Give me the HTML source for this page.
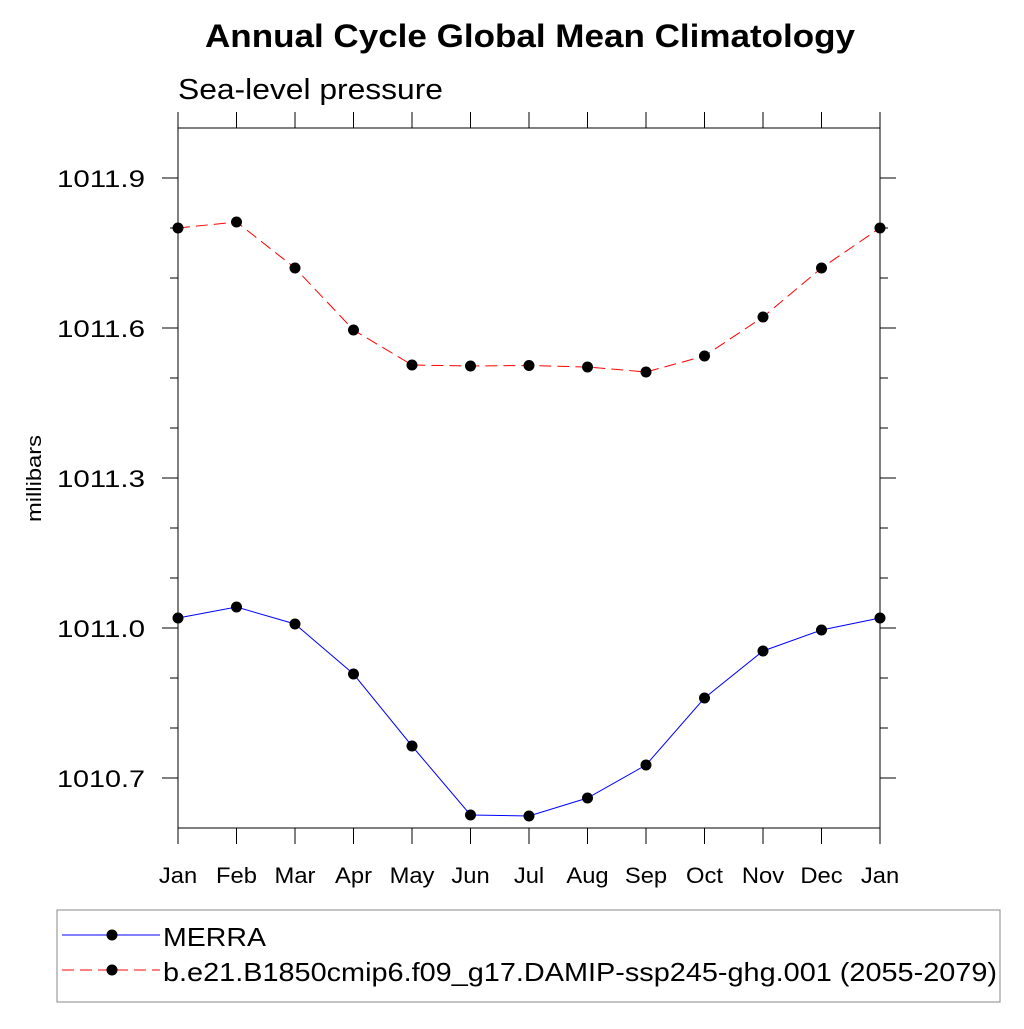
<!DOCTYPE html>
<html><head><meta charset="utf-8"><style>
body{margin:0;background:#fff;}
text{font-family:"Liberation Sans",sans-serif;}
</style></head><body>
<svg id="chart" width="1024" height="1024" viewBox="0 0 1024 1024" xmlns="http://www.w3.org/2000/svg">
<rect width="1024" height="1024" fill="#fff"/>
<text x="205" y="47" font-size="32" font-weight="bold" textLength="650" lengthAdjust="spacingAndGlyphs">Annual Cycle Global Mean Climatology</text>
<text x="178" y="99" font-size="29" textLength="265" lengthAdjust="spacingAndGlyphs">Sea-level pressure</text>
<text transform="translate(41,522) rotate(-90)" font-size="20" textLength="87" lengthAdjust="spacingAndGlyphs">millibars</text>
<g id="axes"></g>
<g id="series"></g>
<rect x="57" y="910" width="943" height="92" fill="none" stroke="#888" stroke-width="1"/>
<g>
<line x1="62" y1="935" x2="160" y2="935" stroke="#00f" stroke-width="1"/>
<circle cx="112" cy="935" r="5.5" fill="#000"/>
<text x="163" y="946" font-size="26" textLength="103" lengthAdjust="spacingAndGlyphs">MERRA</text></g>
<g>
<line x1="62" y1="970" x2="160" y2="970" stroke="#f00" stroke-width="1" stroke-dasharray="12,6"/>
<circle cx="112" cy="970" r="5.5" fill="#000"/>
<text x="163" y="981" font-size="26" textLength="834" lengthAdjust="spacingAndGlyphs">b.e21.B1850cmip6.f09_g17.DAMIP-ssp245-ghg.001 (2055-2079)</text></g>
</svg>
<script>
const months=["Jan","Feb","Mar","Apr","May","Jun","Jul","Aug","Sep","Oct","Nov","Dec","Jan"];
const merra=[1011.02,1011.042,1011.008,1010.908,1010.764,1010.626,1010.624,1010.66,1010.726,1010.86,1010.954,1010.996,1011.02];
const model=[1011.8,1011.812,1011.72,1011.596,1011.526,1011.524,1011.525,1011.522,1011.512,1011.544,1011.622,1011.72,1011.8];
const yTicks=[1010.7,1011.0,1011.3,1011.6,1011.9];
const yMin=1010.6,yMax=1012.0;
const L=178,R=880,T=128,B=828;
const NS="http://www.w3.org/2000/svg";
function xs(i){return L+(R-L)*i/(months.length-1);}
function ys(v){return B-(v-yMin)/(yMax-yMin)*(B-T);}
function mk(tag,attrs,parent){const e=document.createElementNS(NS,tag);for(const k in attrs)e.setAttribute(k,attrs[k]);parent.appendChild(e);return e;}
const ax=document.getElementById('axes');
const frame=mk('rect',{x:L,y:T,width:R-L,height:B-T,fill:'none',stroke:'#000','stroke-width':1},ax);


for(let v=yMin+0.1;v<yMax-0.01;v+=0.1){
  const y=ys(v);const major=yTicks.some(t=>Math.abs(t-v)<1e-6);
  const len=major?16:8;
  mk('line',{x1:L-len,y1:y,x2:L,y2:y,stroke:'#000'},ax);
  mk('line',{x1:R,y1:y,x2:R+len,y2:y,stroke:'#000'},ax);
}
yTicks.forEach(t=>{const tx=mk('text',{x:57,y:ys(t)+9,'font-size':24,textLength:88,lengthAdjust:'spacingAndGlyphs'},ax);tx.textContent=t.toFixed(1);

});
months.forEach((m,i)=>{const x=xs(i);
mk('line',{x1:x,y1:T-16,x2:x,y2:T,stroke:'#000'},ax);
mk('line',{x1:x,y1:B,x2:x,y2:B+16,stroke:'#000'},ax);
const tx=mk('text',{x:0,y:0,'font-size':22,'text-anchor':'middle',transform:'translate('+x+',883) scale(1.08,1)'},ax);tx.textContent=m;

});
const sg=document.getElementById('series');
function draw(vals,color,dash,name){
  const pts=vals.map((v,i)=>xs(i)+','+ys(v)).join(' ');
  const pl=mk('polyline',{points:pts,fill:'none',stroke:color,'stroke-width':1,'stroke-dasharray':dash},sg);
  
  
  vals.forEach((v,i)=>{const c=mk('circle',{cx:xs(i),cy:ys(v),r:5.5,fill:'#000'},sg);
  
  });
}
draw(model,'#f00','12,6','model');
draw(merra,'#00f','none','merra');
</script>
</body></html>
